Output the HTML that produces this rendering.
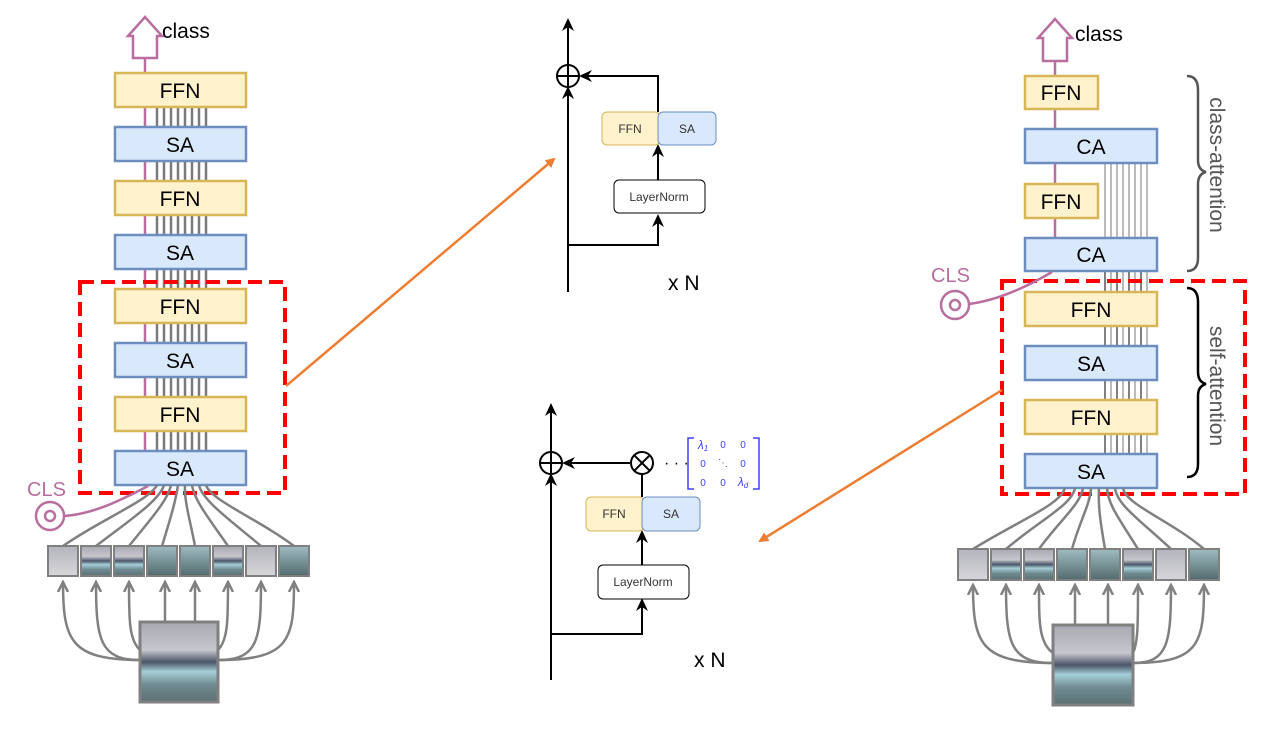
<!DOCTYPE html>
<html><head><meta charset="utf-8"><style>body{margin:0;background:#fff}svg{display:block}text{font-family:"Liberation Sans",sans-serif}</style></head><body>
<svg width="1287" height="735" viewBox="0 0 1287 735" xmlns="http://www.w3.org/2000/svg">
<defs>
<marker id="ab" markerWidth="14" markerHeight="14" refX="11" refY="7" orient="auto" markerUnits="userSpaceOnUse"><path d="M0,1 L13,7 L0,13 L4,7 z" fill="#000"/></marker>
<marker id="ag" markerWidth="12" markerHeight="12" refX="10" refY="6" orient="auto" markerUnits="userSpaceOnUse"><path d="M0,1 L10,6 L0,11" fill="none" stroke="#808080" stroke-width="2.5"/></marker>
<marker id="ao" markerWidth="10" markerHeight="10" refX="8" refY="5" orient="auto" markerUnits="userSpaceOnUse"><path d="M0,0 L10,5 L0,10 z" fill="#ed7d31"/></marker>
<linearGradient id="img" x1="0" y1="0" x2="0" y2="1"><stop offset="0" stop-color="#a9a9b3"/><stop offset="0.35" stop-color="#c6c6cd"/><stop offset="0.5" stop-color="#4a5568"/><stop offset="0.62" stop-color="#a6cfd8"/><stop offset="0.78" stop-color="#6f8c92"/><stop offset="1" stop-color="#5b6f72"/></linearGradient>
<linearGradient id="p1" x1="0" y1="0" x2="0" y2="1"><stop offset="0" stop-color="#b4b4bd"/><stop offset="1" stop-color="#d6d6da"/></linearGradient>
<linearGradient id="p2" x1="0" y1="0" x2="0" y2="1"><stop offset="0" stop-color="#9fbcc0"/><stop offset="1" stop-color="#526a6e"/></linearGradient>
</defs>

<!-- ============ LEFT COLUMN ============ -->
<g stroke="#7a7a7a" stroke-width="2.5">
<line x1="157" y1="107" x2="157" y2="451"/><line x1="164" y1="107" x2="164" y2="451"/><line x1="171" y1="107" x2="171" y2="451"/><line x1="178" y1="107" x2="178" y2="451"/><line x1="185" y1="107" x2="185" y2="451"/><line x1="192" y1="107" x2="192" y2="451"/><line x1="199" y1="107" x2="199" y2="451"/><line x1="206" y1="107" x2="206" y2="451"/>
</g>
<line x1="145" y1="55" x2="145" y2="485" stroke="#b86e9e" stroke-width="2.5"/>
<path d="M133,58 V36 H128 L145,17 L162,36 H157 V58 Z" fill="#fff" stroke="#b86e9e" stroke-width="2.5"/>
<text x="162" y="38" font-size="21">class</text>
<g stroke-width="2.5" font-size="21" text-anchor="middle">
<rect x="115" y="73" width="131" height="34" fill="#fff2cc" stroke="#d6b656"/><text x="180" y="98" stroke="none">FFN</text>
<rect x="115" y="127" width="131" height="34" fill="#dae8fc" stroke="#6c8ebf"/><text x="180" y="152" stroke="none">SA</text>
<rect x="115" y="181" width="131" height="34" fill="#fff2cc" stroke="#d6b656"/><text x="180" y="206" stroke="none">FFN</text>
<rect x="115" y="235" width="131" height="34" fill="#dae8fc" stroke="#6c8ebf"/><text x="180" y="260" stroke="none">SA</text>
<rect x="115" y="289" width="131" height="34" fill="#fff2cc" stroke="#d6b656"/><text x="180" y="314" stroke="none">FFN</text>
<rect x="115" y="343" width="131" height="34" fill="#dae8fc" stroke="#6c8ebf"/><text x="180" y="368" stroke="none">SA</text>
<rect x="115" y="397" width="131" height="34" fill="#fff2cc" stroke="#d6b656"/><text x="180" y="422" stroke="none">FFN</text>
<rect x="115" y="451" width="131" height="34" fill="#dae8fc" stroke="#6c8ebf"/><text x="180" y="476" stroke="none">SA</text>
</g>
<rect x="80" y="282" width="205" height="211" fill="none" stroke="#f00" stroke-width="4" stroke-dasharray="14,7"/>
<text x="27" y="496" font-size="20" fill="#b86e9e">CLS</text>
<circle cx="50" cy="516" r="14" fill="none" stroke="#b86e9e" stroke-width="2.5"/><circle cx="50" cy="516" r="5" fill="none" stroke="#b86e9e" stroke-width="2.5"/>
<path d="M64,516 C95,514 125,498 148,486" fill="none" stroke="#b86e9e" stroke-width="2.5"/>
<g fill="none" stroke="#808080" stroke-width="2.5">
<path d="M63,546 C100,520 150,500 157,485"/><path d="M96,546 C130,520 160,500 164,485"/><path d="M129,546 C150,520 168,500 171,485"/><path d="M162,546 C170,520 176,500 178,485"/><path d="M195,546 C190,520 184,500 185,485"/><path d="M228,546 C210,520 194,500 192,485"/><path d="M261,546 C230,520 202,500 199,485"/><path d="M294,546 C260,520 210,500 206,485"/>
<path d="M140,660 C70,660 63,640 63,582" marker-end="url(#ag)"/><path d="M140,660 C100,660 96,640 96,582" marker-end="url(#ag)"/><path d="M140,650 C129,640 129,620 129,582" marker-end="url(#ag)"/><path d="M165,622 V582" marker-end="url(#ag)"/><path d="M195,622 V582" marker-end="url(#ag)"/><path d="M218,650 C228,640 228,620 228,582" marker-end="url(#ag)"/><path d="M218,660 C258,660 261,640 261,582" marker-end="url(#ag)"/><path d="M218,660 C290,660 294,640 294,582" marker-end="url(#ag)"/>
</g>
<g stroke="#808080" stroke-width="2">
<rect x="48" y="546" width="30" height="30" fill="url(#p1)"/><rect x="81" y="546" width="30" height="30" fill="url(#img)"/><rect x="114" y="546" width="30" height="30" fill="url(#img)"/><rect x="147" y="546" width="30" height="30" fill="url(#p2)"/><rect x="180" y="546" width="30" height="30" fill="url(#p2)"/><rect x="213" y="546" width="30" height="30" fill="url(#img)"/><rect x="246" y="546" width="30" height="30" fill="url(#p1)"/><rect x="279" y="546" width="30" height="30" fill="url(#p2)"/>
<rect x="140" y="622" width="78" height="80" fill="url(#img)" stroke-width="3"/>
</g>

<!-- ============ RIGHT COLUMN ============ -->
<g stroke="#bbb" stroke-width="2">
<line x1="1105" y1="163" x2="1105" y2="454"/><line x1="1111" y1="163" x2="1111" y2="454"/><line x1="1117" y1="163" x2="1117" y2="454"/><line x1="1123" y1="163" x2="1123" y2="454"/><line x1="1129" y1="163" x2="1129" y2="454"/><line x1="1135" y1="163" x2="1135" y2="454"/><line x1="1141" y1="163" x2="1141" y2="454"/><line x1="1147" y1="163" x2="1147" y2="454"/>
</g>
<g stroke="#808080" stroke-width="2"><line x1="1105" y1="271" x2="1105" y2="454"/><line x1="1117" y1="271" x2="1117" y2="454"/><line x1="1129" y1="271" x2="1129" y2="454"/><line x1="1141" y1="271" x2="1141" y2="454"/></g>
<line x1="1055" y1="58" x2="1055" y2="238" stroke="#b86e9e" stroke-width="2.5"/>
<path d="M1043,61 V38 H1038 L1055,19 L1072,38 H1067 V61 Z" fill="#fff" stroke="#b86e9e" stroke-width="2.5"/>
<text x="1075" y="41" font-size="21">class</text>
<g stroke-width="2.5" font-size="21" text-anchor="middle">
<rect x="1025" y="76" width="73" height="33" fill="#fff2cc" stroke="#d6b656"/><text x="1061" y="100" stroke="none">FFN</text>
<rect x="1025" y="129" width="132" height="34" fill="#dae8fc" stroke="#6c8ebf"/><text x="1091" y="154" stroke="none">CA</text>
<rect x="1025" y="184" width="73" height="34" fill="#fff2cc" stroke="#d6b656"/><text x="1061" y="209" stroke="none">FFN</text>
<rect x="1025" y="238" width="132" height="33" fill="#dae8fc" stroke="#6c8ebf"/><text x="1091" y="262" stroke="none">CA</text>
<rect x="1025" y="292" width="132" height="34" fill="#fff2cc" stroke="#d6b656"/><text x="1091" y="317" stroke="none">FFN</text>
<rect x="1025" y="346" width="132" height="34" fill="#dae8fc" stroke="#6c8ebf"/><text x="1091" y="371" stroke="none">SA</text>
<rect x="1025" y="400" width="132" height="34" fill="#fff2cc" stroke="#d6b656"/><text x="1091" y="425" stroke="none">FFN</text>
<rect x="1025" y="454" width="132" height="34" fill="#dae8fc" stroke="#6c8ebf"/><text x="1091" y="479" stroke="none">SA</text>
</g>
<rect x="1002" y="281" width="243" height="213" fill="none" stroke="#f00" stroke-width="4" stroke-dasharray="14,7"/>
<path d="M1187,76 Q1198,76 1198,90 V160 Q1198,170 1206,172 Q1198,174 1198,184 V258 Q1198,271 1187,271" fill="none" stroke="#555" stroke-width="2.5"/>
<path d="M1187,288 Q1198,288 1198,302 V372 Q1198,382 1206,384 Q1198,386 1198,396 V464 Q1198,477 1187,477" fill="none" stroke="#000" stroke-width="2.5"/>
<text transform="translate(1210,165) rotate(90)" font-size="21" fill="#555" text-anchor="middle">class-attention</text>
<text transform="translate(1210,386) rotate(90)" font-size="21" fill="#555" text-anchor="middle">self-attention</text>
<text x="931" y="282" font-size="20" fill="#b86e9e">CLS</text>
<circle cx="955" cy="305" r="14" fill="none" stroke="#b86e9e" stroke-width="2.5"/><circle cx="955" cy="305" r="5" fill="none" stroke="#b86e9e" stroke-width="2.5"/>
<path d="M969,304 C1000,300 1030,285 1052,272" fill="none" stroke="#b86e9e" stroke-width="2.5"/>
<g fill="none" stroke="#808080" stroke-width="2.5">
<path d="M973,549 C1020,520 1060,505 1065,488"/><path d="M1006,549 C1040,520 1072,505 1075,488"/><path d="M1039,549 C1060,520 1080,505 1083,488"/><path d="M1072,549 C1080,520 1090,505 1091,488"/><path d="M1105,549 C1100,520 1098,505 1099,488"/><path d="M1138,549 C1120,520 1108,505 1107,488"/><path d="M1171,549 C1140,520 1117,505 1115,488"/><path d="M1204,549 C1170,520 1126,505 1123,488"/>
<path d="M1053,663 C980,663 973,643 973,585" marker-end="url(#ag)"/><path d="M1053,663 C1010,663 1006,643 1006,585" marker-end="url(#ag)"/><path d="M1053,653 C1039,643 1039,623 1039,585" marker-end="url(#ag)"/><path d="M1075,625 V585" marker-end="url(#ag)"/><path d="M1108,625 V585" marker-end="url(#ag)"/><path d="M1133,653 C1138,643 1138,623 1138,585" marker-end="url(#ag)"/><path d="M1133,663 C1168,663 1171,643 1171,585" marker-end="url(#ag)"/><path d="M1133,663 C1200,663 1204,643 1204,585" marker-end="url(#ag)"/>
</g>
<g stroke="#808080" stroke-width="2">
<rect x="958" y="549" width="30" height="31" fill="url(#p1)"/><rect x="991" y="549" width="30" height="31" fill="url(#img)"/><rect x="1024" y="549" width="30" height="31" fill="url(#img)"/><rect x="1057" y="549" width="30" height="31" fill="url(#p2)"/><rect x="1090" y="549" width="30" height="31" fill="url(#p2)"/><rect x="1123" y="549" width="30" height="31" fill="url(#img)"/><rect x="1156" y="549" width="30" height="31" fill="url(#p1)"/><rect x="1189" y="549" width="30" height="31" fill="url(#p2)"/>
<rect x="1053" y="625" width="80" height="80" fill="url(#img)" stroke-width="3"/>
</g>

<!-- ============ MIDDLE TOP ============ -->
<g fill="none" stroke="#000" stroke-width="2">
<line x1="568" y1="292" x2="568" y2="20" marker-end="url(#ab)"/>
<line x1="568" y1="292" x2="568" y2="88" marker-end="url(#ab)"/>
<polyline points="568,245 658,245 658,216" marker-end="url(#ab)"/>
<line x1="658" y1="180" x2="658" y2="146" marker-end="url(#ab)"/>
<polyline points="658,112 658,76 581,76" marker-end="url(#ab)"/>
<circle cx="568" cy="76" r="11" fill="#fff"/><line x1="557" y1="76" x2="579" y2="76"/><line x1="568" y1="65" x2="568" y2="87"/>
</g>
<rect x="602" y="112" width="58" height="33" rx="5" fill="#fff2cc" stroke="#d6b656"/>
<rect x="658" y="112" width="58" height="33" rx="5" fill="#dae8fc" stroke="#6c8ebf"/>
<text x="630" y="133" font-size="12" text-anchor="middle" fill="#333">FFN</text><text x="687" y="133" font-size="12" text-anchor="middle" fill="#333">SA</text>
<rect x="614" y="180" width="91" height="33" rx="5" fill="#fff" stroke="#000"/>
<text x="659" y="201" font-size="12" text-anchor="middle" fill="#333">LayerNorm</text>
<text x="668" y="290" font-size="21">x N</text>

<!-- ============ MIDDLE BOTTOM ============ -->
<g fill="none" stroke="#000" stroke-width="2">
<line x1="551" y1="680" x2="551" y2="405" marker-end="url(#ab)"/>
<line x1="551" y1="680" x2="551" y2="475" marker-end="url(#ab)"/>
<polyline points="551,634 642,634 642,600" marker-end="url(#ab)"/>
<line x1="642" y1="565" x2="642" y2="532" marker-end="url(#ab)"/>
<line x1="642" y1="497" x2="642" y2="475"/>
<line x1="630" y1="463" x2="564" y2="463" marker-end="url(#ab)"/>
<circle cx="551" cy="463" r="11" fill="#fff"/><line x1="540" y1="463" x2="562" y2="463"/><line x1="551" y1="452" x2="551" y2="474"/>
<circle cx="642" cy="463" r="11" fill="#fff"/><line x1="634" y1="455" x2="650" y2="471"/><line x1="650" y1="455" x2="634" y2="471"/>
</g>
<text x="664" y="468" font-size="16">· · ·</text>
<g fill="none" stroke="#4040ff" stroke-width="1.5"><path d="M694,438 H688 V489 H694"/><path d="M753,438 H759 V489 H753"/></g>
<g font-family="Liberation Serif,serif" font-size="10" fill="#4040ff" text-anchor="middle">
<text x="703" y="449" font-style="italic" font-size="12">λ<tspan font-size="8" dy="2">1</tspan></text><text x="723" y="448">0</text><text x="743" y="448">0</text>
<text x="703" y="467">0</text><text x="723" y="466">⋱</text><text x="743" y="467">0</text>
<text x="703" y="486">0</text><text x="723" y="486">0</text><text x="743" y="486" font-style="italic" font-size="12">λ<tspan font-size="8" dy="2">d</tspan></text>
</g>
<rect x="586" y="497" width="58" height="34" rx="5" fill="#fff2cc" stroke="#d6b656"/>
<rect x="642" y="497" width="58" height="34" rx="5" fill="#dae8fc" stroke="#6c8ebf"/>
<text x="614" y="518" font-size="12" text-anchor="middle" fill="#333">FFN</text><text x="671" y="518" font-size="12" text-anchor="middle" fill="#333">SA</text>
<rect x="598" y="565" width="91" height="34" rx="5" fill="#fff" stroke="#000"/>
<text x="643" y="586" font-size="12" text-anchor="middle" fill="#333">LayerNorm</text>
<text x="694" y="667" font-size="21">x N</text>

<!-- orange arrows -->
<line x1="286" y1="386" x2="554" y2="159" stroke="#ed7d31" stroke-width="2.5" marker-end="url(#ao)"/>
<line x1="1002" y1="390" x2="760" y2="541" stroke="#ed7d31" stroke-width="2.5" marker-end="url(#ao)"/>
</svg>
</body></html>
